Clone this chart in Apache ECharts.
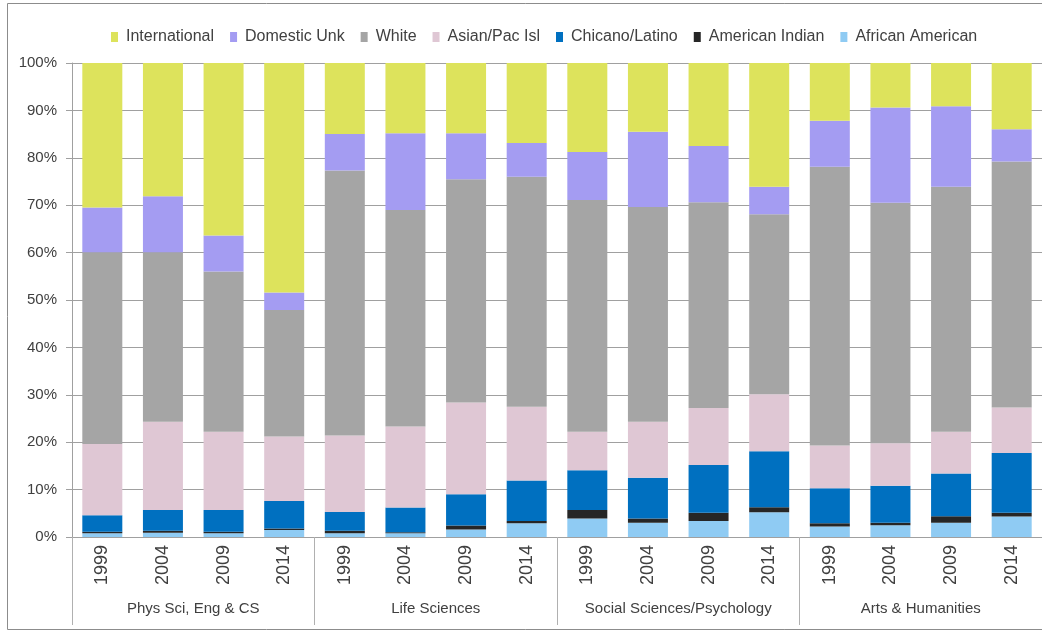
<!DOCTYPE html>
<html>
<head>
<meta charset="utf-8">
<script src="https://cdn.jsdelivr.net/npm/echarts@6/dist/echarts.min.js"></script>
<style>
html,body{margin:0;padding:0;background:#fff;}
#chart{width:1042px;height:633px;}
</style>
</head>
<body>
<div id="chart"></div>
<script>
var years = ['1999','2004','2009','2014','1999','2004','2009','2014','1999','2004','2009','2014','1999','2004','2009','2014'];
var groups = ['Phys Sci, Eng & CS','Life Sciences','Social Sciences/Psychology','Arts & Humanities'];
var yTicks = [0,10,20,30,40,50,60,70,80,90,100];

var africanAmerican = [0.8,0.9,0.8,1.5, 0.8,0.8,1.6,2.9, 3.9,3.0,3.4,5.2, 2.2,2.5,3.0,4.3];
var americanIndian  = [0.3,0.4,0.3,0.3, 0.5,0.2,0.8,0.5, 1.8,0.9,1.7,1.1, 0.7,0.5,1.4,0.8];
var chicanoLatino   = [3.5,4.4,4.6,5.8, 4.0,5.2,6.6,8.5, 8.4,8.6,10.1,11.8, 7.4,7.8,9.0,12.6];
var asianPacIsl     = [15.0,18.6,16.5,13.6, 16.1,17.1,19.4,15.6, 8.1,11.8,12.0,12.0, 9.0,9.0,8.8,9.6];
var white           = [40.5,35.8,33.8,26.7, 55.9,45.7,47.1,48.5, 48.9,45.3,43.4,38.0, 58.8,50.7,51.7,51.9];
var domesticUnk     = [9.4,11.8,7.6,3.7, 7.7,16.2,9.7,7.1, 10.1,15.9,11.9,5.8, 9.7,20.1,17.0,6.8];
var international   = [30.5,28.1,36.4,48.4, 15.0,14.8,14.8,16.9, 18.8,14.5,17.5,26.1, 12.2,9.4,9.1,14.0];

var seriesDefs = [
  {name:'African American', data:africanAmerican, color:'#8fcbf3'},
  {name:'American Indian', data:americanIndian, color:'#262626'},
  {name:'Chicano/Latino', data:chicanoLatino, color:'#0070c0'},
  {name:'Asian/Pac Isl', data:asianPacIsl, color:'#dfc7d4'},
  {name:'White', data:white, color:'#a5a5a5'},
  {name:'Domestic Unk', data:domesticUnk, color:'#a49cf2'},
  {name:'International', data:international, color:'#dde35c'}
];

var font = '"Liberation Sans", Arial, sans-serif';
var txt = '#404040';
var chart = echarts.init(document.getElementById('chart'), null, {renderer:'canvas'});
chart.setOption({
  animation:false,
  backgroundColor:'#fff',
  graphic:[{type:'rect', shape:{x:7.5, y:3.5, width:1100, height:626}, style:{fill:'none', stroke:'#8c8c8c', lineWidth:1}, silent:true}],
  legend:{
    left:106, top:24,
    icon:'rect', itemWidth:7, itemHeight:10, itemGap:16,
    data:['International','Domestic Unk','White','Asian/Pac Isl','Chicano/Latino','American Indian','African American'],
    textStyle:{fontFamily:font, fontSize:16, color:txt, padding:[0,0,0,3]}
  },
  grid:{left:72, right:-3, top:63, bottom:96, containLabel:false},
  xAxis:[
    {type:'category', data:years, position:'bottom',
     axisLine:{show:true, lineStyle:{color:'#a0a0a0', width:1}},
     axisTick:{show:false},
     axisLabel:{rotate:90, margin:8, interval:0, fontFamily:font, fontSize:18, color:txt}},
    {type:'category', data:groups, position:'bottom', offset:0,
     axisLine:{show:false},
     axisTick:{show:true, interval:0, length:88, lineStyle:{color:'#b0b0b0', width:1}},
     axisLabel:{interval:0, margin:64, fontFamily:font, fontSize:15, color:txt}}
  ],
  yAxis:{type:'value', min:0, max:100, interval:10,
    axisLine:{show:true, lineStyle:{color:'#a0a0a0'}},
    axisTick:{show:true, length:6, lineStyle:{color:'#a0a0a0'}},
    splitLine:{show:true, lineStyle:{color:'#a0a0a0', width:1}},
    axisLabel:{formatter:'{value}%', margin:15, fontFamily:font, fontSize:15, color:txt}
  },
  series: seriesDefs.map(function(s){
    return {name:s.name, type:'bar', stack:'total', data:s.data, barWidth:40, xAxisIndex:0,
      itemStyle:{color:s.color}, emphasis:{disabled:true}};
  })
});
</script>
</body>
</html>
